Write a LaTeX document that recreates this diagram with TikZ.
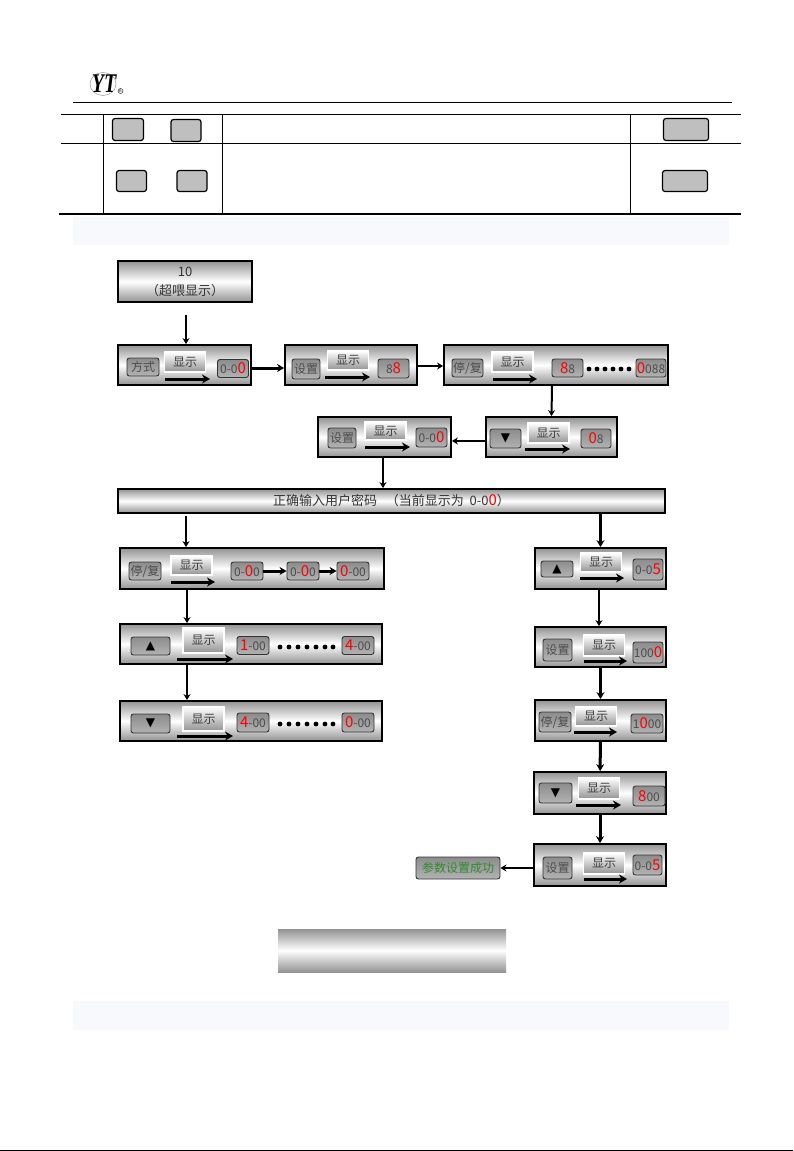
\documentclass[tikz,border=0pt]{standalone}
\usepackage{fontspec}
\usepackage{xcolor}
\usepackage{tikz}
\usetikzlibrary{arrows.meta}
\usetikzlibrary{shapes.geometric}

\newfontfamily\cjk{Noto Sans CJK SC}
\newfontfamily\symfont{DejaVu Sans}
\newfontfamily\logofont{Liberation Serif}

\definecolor{bandblue}{HTML}{F7F9FD}
\definecolor{okgreen}{HTML}{2E8B2E}

\tikzset{wh/.style 2 args={minimum width=#1pt,minimum height=#2pt}}

\newcommand{\hi}[1]{{\color{red}\fontsize{15}{15}\selectfont #1}}
\newcommand{\uptri}{{\color{black}\symfont\fontsize{12}{12}\selectfont ▲}}
\newcommand{\dntri}{{\color{black}\symfont\fontsize{12}{12}\selectfont ▼}}
% name, centre x, centre y, height, arrow from x, arrow to x, arrow y
\newcommand{\dispbox}[7]{%
  \draw (#2,#3) node[showbg,wh={41}{#4}] (#1s) {显示};
  \coordinate (#1a) at (#5,#7);
  \coordinate (#1b) at (#6,#7);
  \path (#1a) edge[showarrow] (#1b);
}

\begin{document}
\begin{tikzpicture}[x=1pt,y=-1pt,every node/.style={inner sep=0pt,font=\cjk\fontsize{12}{13}\selectfont}]
  \tikzstyle{panel}=[draw=black,line width=1.8pt,top color=gray!85,bottom color=gray!85,middle color=white,align=center,text=black!80]
  \tikzstyle{key}=[draw=black!80,line width=.9pt,rounded corners=2.5pt,top color=gray!90,bottom color=gray!60,text=black!70]
  \tikzstyle{btn}=[draw=black,line width=1.2pt,rounded corners=2.5pt,fill=gray!50]
  \tikzstyle{showbg}=[draw=white,line width=1.5pt,top color=white,bottom color=gray!85,text=black!75]
  \tikzstyle{showarrow}=[line width=3pt,-{Stealth[length=8pt,width=9pt]}]
  \tikzstyle{flow}=[line width=2pt,-{Stealth[length=6pt,width=7pt]}]
  \tikzstyle{flowb}=[line width=3pt,-{Stealth[length=7pt,width=8pt]}]

  \useasboundingbox (0,0) rectangle (793,1151);
  \fill[white] (0,0) rectangle (793,1151);

  % page head
  \draw (103,84) node[ellipse,draw=gray,line width=.4pt,wh={26}{23}] (LOGO) {};
  \draw (104,84) node[text=black,xscale=.74,transform shape,font=\logofont\bfseries\itshape\fontsize{27}{27}\selectfont] (YT) {YT};
  \draw (120.5,91) node[circle,draw=black,line width=.4pt,minimum size=5pt,font=\logofont\fontsize{4}{4}\selectfont] (REG) {R};
  \draw[line width=.9pt] (73,102) -- (732,102);

  % table
  \draw[line width=.9pt] (61,114) -- (741,114);
  \draw[line width=.9pt] (61,143) -- (741,143);
  \draw[line width=2.6pt] (59,214) -- (741,214);
  \draw[line width=.8pt] (103.5,114) -- (103.5,214);
  \draw[line width=.8pt] (222,114) -- (222,214);
  \draw[line width=.8pt] (630,114) -- (630,214);
  \draw (128,129.5) node[btn,wh={31}{22}] (A1) {};
  \draw (186,130.5) node[btn,wh={30}{22}] (A2) {};
  \draw (686,129.5) node[btn,wh={45}{22}] (A3) {};
  \draw (131.5,181) node[btn,wh={30}{21}] (B1) {};
  \draw (192,181) node[btn,wh={30}{21}] (B2) {};
  \draw (685,181) node[btn,wh={45}{21}] (B3) {};

  \fill[bandblue] (73,217) rectangle (729,245);
  \fill[bandblue] (73,1001) rectangle (729,1030);

  % upper panels
  \draw (185,281.5) node[panel,wh={134}{41},font=\cjk\fontsize{13}{19}\selectfont] (T0) {10\\（超喂显示）};

  \draw (184.5,365) node[panel,wh={133}{40}] (P1) {};
  \draw (143,367) node[key,wh={32}{18}] (P1k) {方式};
  \dispbox{P1}{185}{362}{20}{165}{210}{379}
  \draw (233,368.5) node[key,wh={31}{18}] (P1d) {0-0\hi{0}};

  \draw (351,365) node[panel,wh={132}{40}] (P2) {};
  \draw (306,369) node[key,wh={28}{20}] (P2k) {设置};
  \dispbox{P2}{348}{360.5}{19}{325}{370}{377}
  \draw (393.5,368.5) node[key,wh={31}{19}] (P2d) {8\hi{8}};

  \draw (556,365) node[panel,wh={224}{40}] (P3) {};
  \draw (467.5,368) node[key,wh={31}{18}] (P3k) {停/复};
  \dispbox{P3}{512.5}{362}{20}{493}{537}{379}
  \draw (567.5,368) node[key,wh={31}{18}] (P3d) {\hi{8}8};
  \draw (651,368) node[key,wh={30}{18}] (P3e) {\hi{0}088};
  \foreach \x in {589,597,605,613,621,629} \fill (\x,369) circle (2.4pt);

  \draw (551.5,437) node[panel,wh={131}{40}] (P4) {};
  \draw (505.5,438.5) node[key,wh={31}{19}] (P4k) {\dntri};
  \dispbox{P4}{548.5}{433}{20}{525}{570}{449}
  \draw (596,438.5) node[key,wh={30}{19}] (P4d) {\hi{0}8};

  \draw (384.5,437) node[panel,wh={133}{40}] (P5) {};
  \draw (342,438) node[key,wh={28}{20}] (P5k) {设置};
  \dispbox{P5}{385.5}{431}{18}{365}{410}{447}
  \draw (431.5,437.5) node[key,wh={31}{19}] (P5d) {0-0\hi{0}};

  \draw (391.5,501) node[panel,wh={547}{24},font=\cjk\fontsize{13}{14}\selectfont] (BAR) {正确输入用户密码\ \ \ （当前显示为\ \ 0-0\hi{0}）};

  % left column
  \draw (252,568.5) node[panel,wh={264}{41}] (P6) {};
  \draw (145,571) node[key,wh={32}{18}] (P6k) {停/复};
  \dispbox{P6}{191.5}{565.5}{19}{171}{215}{582}
  \draw (247,571) node[key,wh={32}{18}] (P6d) {0-\hi{0}0};
  \draw (303,571) node[key,wh={32}{18}] (P6e) {0-\hi{0}0};
  \draw (353,571) node[key,wh={32}{18}] (P6f) {\hi{0}-00};

  \draw (251,644) node[panel,wh={262}{40}] (P7) {};
  \draw (150.5,646) node[key,wh={39}{18}] (P7k) {\uptri};
  \dispbox{P7}{203.5}{640.5}{25}{177}{233}{659}
  \draw (253,645.5) node[key,wh={32}{18}] (P7d) {\hi{1}-00};
  \draw (358,645.5) node[key,wh={32}{18}] (P7e) {\hi{4}-00};
  \foreach \x in {280,289,298,307,316,325,333} \fill (\x,647) circle (2.4pt);

  \draw (251,721) node[panel,wh={262}{40}] (P8) {};
  \draw (150.5,723.5) node[key,wh={39}{19}] (P8k) {\dntri};
  \dispbox{P8}{203.5}{719}{24}{177}{233}{736}
  \draw (253,722.5) node[key,wh={32}{19}] (P8d) {\hi{4}-00};
  \draw (358,722.5) node[key,wh={32}{19}] (P8e) {\hi{0}-00};
  \foreach \x in {280,289,298,307,316,325,333} \fill (\x,724) circle (2.4pt);

  % right column
  \draw (600.5,568.5) node[panel,wh={131}{41}] (R1) {};
  \draw (557,569) node[key,wh={32}{16}] (R1k) {\uptri};
  \dispbox{R1}{601}{562.5}{19}{580}{624}{578}
  \draw (648,569.5) node[key,wh={30}{21}] (R1d) {0-0\hi{5}};

  \draw (600.5,647) node[panel,wh={131}{40}] (R2) {};
  \draw (557.5,650) node[key,wh={29}{22}] (R2k) {设置};
  \dispbox{R2}{604}{645.5}{21}{584}{627}{661}
  \draw (648,652.5) node[key,wh={30}{21}] (R2d) {100\hi{0}};

  \draw (600.5,720.5) node[panel,wh={131}{41}] (R3) {};
  \draw (555,722) node[key,wh={32}{20}] (R3k) {停/复};
  \dispbox{R3}{596}{716.5}{19}{574}{617}{732}
  \draw (647,723.5) node[key,wh={32}{19}] (R3d) {1\hi{0}00};

  \draw (600,793) node[panel,wh={132}{42}] (R4) {};
  \draw (555.5,793) node[key,wh={33}{20}] (R4k) {\dntri};
  \dispbox{R4}{599}{788.5}{21}{576}{621}{805}
  \draw (649,796) node[key,wh={32}{20}] (R4d) {\hi{8}00};

  \draw (600,865) node[panel,wh={132}{42}] (R5) {};
  \draw (557.5,868) node[key,wh={29}{22}] (R5k) {设置};
  \dispbox{R5}{604}{863.5}{21}{584}{627}{879}
  \draw (647.5,865) node[key,wh={29}{20}] (R5d) {0-0\hi{5}};

  \draw (458,868) node[key,wh={84}{22},text=okgreen] (OK) {参数设置成功};

  \draw (392,950.5) node[wh={228}{43},top color=gray!85,bottom color=gray!85,middle color=white] (FIN) {};

  \coordinate (c1) at (186,516);
  \coordinate (c2) at (186,315);

  \path (c2) edge[flow] (c2 |- P1.north);
  \path ([yshift=-3pt]P1.east) edge[flowb] ([yshift=-3pt]P2.west);
  \path ([yshift=-1pt]P2.east) edge[flow] ([yshift=-1pt]P3.west);
  \path ([xshift=-4pt]P3.south) edge[flow] (P4.north);
  \path ([yshift=-4pt]P4.west) edge[flow] ([yshift=-4pt]P5.east);
  \path ([xshift=-1.5pt]P5.south) edge[flow] ([xshift=-1.5pt]P5.south |- BAR.north);

  \path (c1) edge[flow] (c1 |- P6.north);
  \path ([xshift=-65pt]P6.south) edge[flow] ([xshift=-64pt]P7.north);
  \path ([xshift=-64pt]P7.south) edge[flow] ([xshift=-64pt]P8.north);
  \path (P6d) edge[flowb] (P6e);
  \path (P6e) edge[flowb] (P6f);

  \path (BAR.south -| R1.north) edge[flowb] (R1.north);
  \path ([xshift=-1.5pt]R1.south) edge[flow] ([xshift=-1.5pt]R2.north);
  \path (R2) edge[flowb] (R3);
  \path (R3) edge[flowb] (R4);
  \path (R4) edge[flowb] (R5);
  \path ([yshift=-3pt]R5.west) edge[flow] (OK);

  % page foot
  \draw[line width=1pt] (0,1150.5) -- (793,1150.5);

\end{tikzpicture}
\end{document}
